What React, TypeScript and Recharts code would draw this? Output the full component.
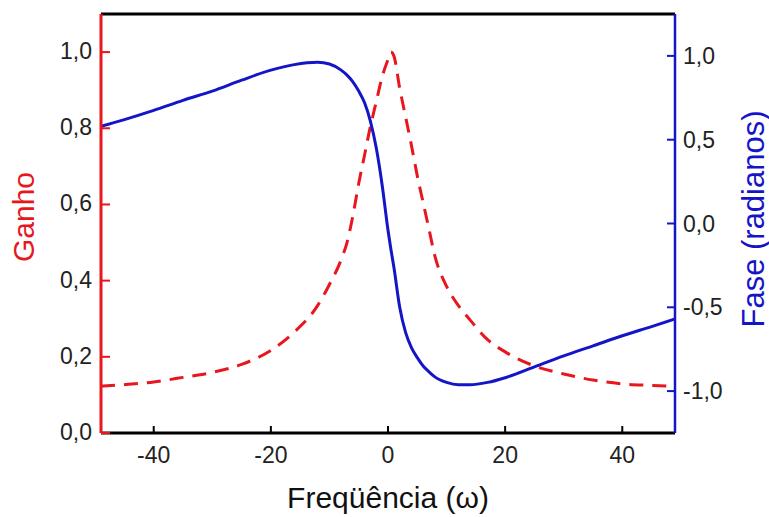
import React from 'react'
import {
  Line,
  LineChart,
  ReferenceLine,
  XAxis,
  YAxis,
} from "recharts";

const RED = "#e8161e";
const BLUE = "#1515c8";
const FONT = "'Liberation Sans', Arial, sans-serif";

// frequency (omega) samples
const omega = [-49, -45, -40, -35, -30, -25, -20, -16, -12, -10, -8, -7, -6, -5, -4, -3, -2, -1, 0, 0.5, 1, 2, 3, 4, 5, 6, 7, 8, 10, 12, 14, 17, 20, 25, 30, 35, 40, 45, 49];
// gain (left axis, red dashed)
const gain = [0.123, 0.127, 0.134, 0.146, 0.159, 0.18, 0.217, 0.265, 0.335, 0.39, 0.455, 0.5, 0.57, 0.655, 0.73, 0.805, 0.87, 0.935, 0.98, 1.0, 0.99, 0.905, 0.83, 0.755, 0.675, 0.605, 0.535, 0.465, 0.385, 0.335, 0.297, 0.245, 0.213, 0.176, 0.155, 0.139, 0.129, 0.125, 0.122];
// phase in radians (right axis, blue)
const phase = [0.58, 0.62, 0.675, 0.735, 0.79, 0.855, 0.915, 0.948, 0.962, 0.952, 0.915, 0.885, 0.845, 0.79, 0.72, 0.61, 0.45, 0.23, -0.04, -0.155, -0.26, -0.5, -0.65, -0.74, -0.8, -0.85, -0.885, -0.915, -0.948, -0.962, -0.962, -0.948, -0.92, -0.855, -0.79, -0.73, -0.67, -0.615, -0.57];

const xTicks = [-40, -20, 0, 20, 40];
const gainTicks = [0, 0.2, 0.4, 0.6, 0.8, 1.0];
const phaseTicks = [-1, -0.5, 0, 0.5, 1];

const data = omega.map((w, i) => ({ omega: w, gain: gain[i], phase: phase[i] }));

const fmt = (v: number) => v.toFixed(1).replace('.', ',');

function BottomTick({ x, y, payload }: any) {
  return (
    <g>
      <line x1={x} x2={x} y1={y} y2={y - 7} stroke="#000" strokeWidth={2} />
      <text x={x} y={y + 30} textAnchor="middle" fontSize={23} fontFamily={FONT} fill="#222">
        {payload.value}
      </text>
    </g>
  );
}

function LeftTick({ x, y, payload }: any) {
  return (
    <g>
      <line x1={x} x2={x + 9} y1={y} y2={y} stroke={RED} strokeWidth={2} />
      <text x={x - 9} y={y + 7} textAnchor="end" fontSize={23} fontFamily={FONT} fill="#222">
        {fmt(payload.value)}
      </text>
    </g>
  );
}

function RightTick({ x, y, payload }: any) {
  return (
    <g>
      <line x1={x} x2={x - 8} y1={y} y2={y} stroke={BLUE} strokeWidth={2} />
      <text x={x + 8} y={y + 8} textAnchor="start" fontSize={23} fontFamily={FONT} fill="#222">
        {fmt(payload.value)}
      </text>
    </g>
  );
}

// axis title with fixed placement; prop names kept apart from what Label injects
function Title({ px, py, text, color, rot, size = 29 }: any) {
  return (
    <text
      x={px}
      y={py}
      transform={rot ? `rotate(${rot}, ${px}, ${py})` : undefined}
      textAnchor="middle"
      dominantBaseline="central"
      fontSize={size}
      fontFamily={FONT}
      fill={color}
    >
      {text}
    </text>
  );
}

export default function App() {
  return (
    <div style={{ position: 'absolute', left: 0, top: 0, background: '#fff' }}>
      <LineChart width={769} height={517} data={data} margin={{ top: 14, right: 0, bottom: 0, left: 0 }}>
        <XAxis
          dataKey="omega"
          type="number"
          domain={[-49, 49]}
          ticks={xTicks}
          allowDataOverflow
          height={84}
          tickSize={0}
          tickMargin={0}
          tickLine={false}
          axisLine={{ stroke: '#000', strokeWidth: 3 }}
          tick={<BottomTick />}
          label={<Title px={388} py={497} size={30} text="Freqüência (ω)" color="#111" />}
        />
        <YAxis
          yAxisId="left"
          domain={[0, 1.1]}
          ticks={gainTicks}
          width={101}
          tickSize={0}
          tickMargin={0}
          tickLine={false}
          axisLine={{ stroke: RED, strokeWidth: 3 }}
          tick={<LeftTick />}
          label={<Title px={23} py={217} size={30} text="Ganho" color={RED} rot={-90} />}
        />
        <YAxis
          yAxisId="right"
          orientation="right"
          domain={[-1.25, 1.25]}
          ticks={phaseTicks}
          width={94}
          tickSize={0}
          tickMargin={0}
          tickLine={false}
          axisLine={{ stroke: BLUE, strokeWidth: 2.5 }}
          tick={<RightTick />}
          label={<Title px={753} py={219} size={31} text="Fase (radianos)" color={BLUE} rot={-90} />}
        />
        <ReferenceLine yAxisId="left" y={1.1} stroke="#000" strokeWidth={3} />
        <Line
          yAxisId="left"
          dataKey="gain"
          type="monotone"
          stroke={RED}
          strokeWidth={3}
          strokeDasharray="14 9"
          dot={false}
          isAnimationActive={false}
        />
        <Line
          yAxisId="right"
          dataKey="phase"
          type="monotone"
          stroke={BLUE}
          strokeWidth={3}
          dot={false}
          isAnimationActive={false}
        />
      </LineChart>
    </div>
  );
}
